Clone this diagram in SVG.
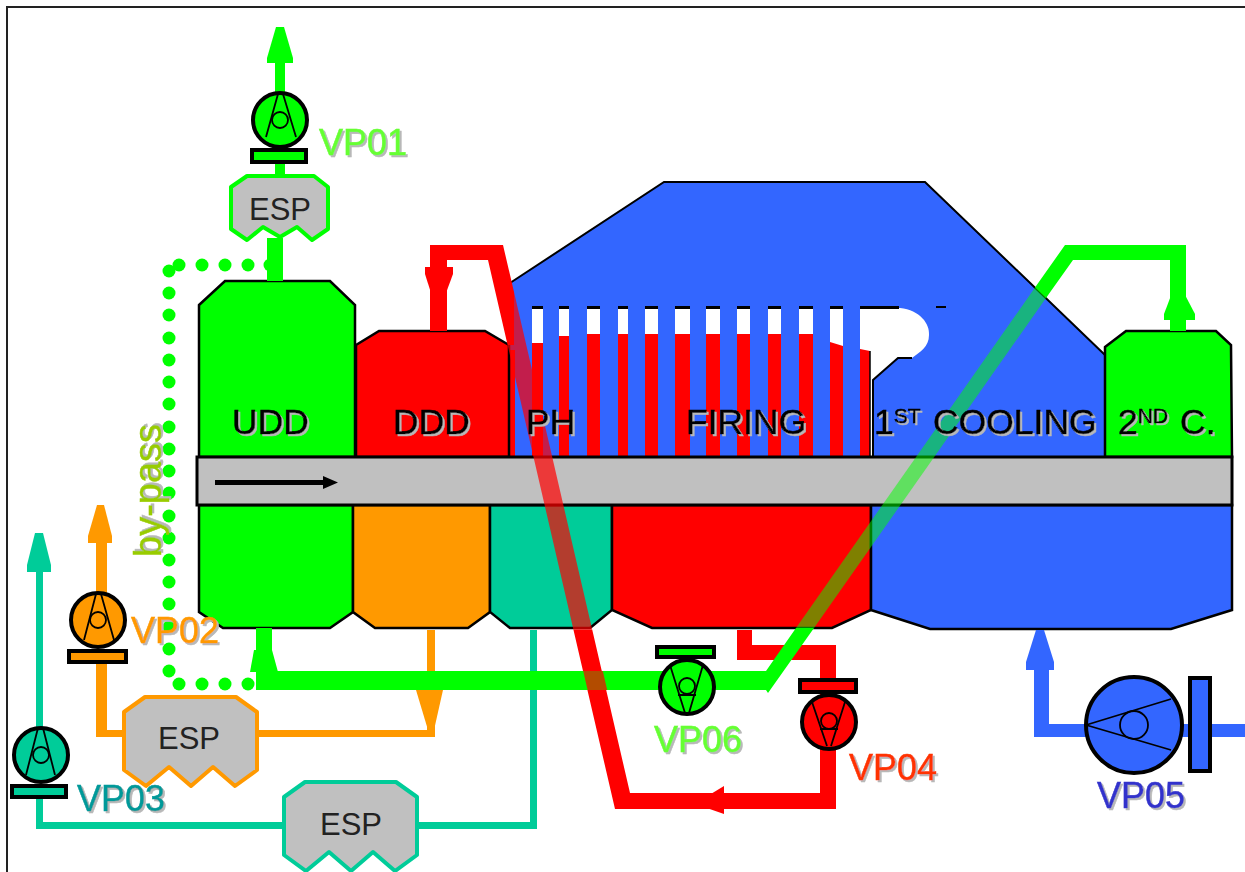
<svg xmlns="http://www.w3.org/2000/svg" width="1245" height="872" viewBox="0 0 1245 872">
<style>
.t{font-family:"Liberation Sans",Arial,sans-serif;font-size:35.500px;stroke-width:.5px;filter:url(#sh)}
.vp{font-size:36px;stroke-width:.5px}
.lab{fill:#000;stroke:#000}
.esp{font-family:"Liberation Sans",Arial,sans-serif;font-size:31px;fill:#222}
.body{stroke:#000;stroke-width:2.5}
.gap{fill:#fff}
.red{fill:#f00}
.dash{fill:#000}
.pump{stroke:#000;stroke-width:4}
.inner{fill:none;stroke:#000;stroke-width:1.800}
.plate{stroke:#000;stroke-width:4}
.espbox{fill:#c0c0c0;stroke-width:4;stroke-linejoin:round}
.g{fill:#0f0}.o{fill:#f90}.te{fill:#0c9}.r{fill:#f00}.b{fill:#36f}
</style>
<defs>
<filter id="sh" x="-10%" y="-10%" width="120%" height="125%"><feDropShadow dx="2" dy="2" stdDeviation="0.4" flood-color="#b8b8b8"/></filter>
<polygon id="espshape" points="145,697 236,697 257,712 257,770 235,786 213,767 191,786 169,767 146,786 124,770 124,712"/>
</defs>
<rect width="1245" height="872" fill="#fff"/>
<path id="frame" d="M1245,7H7V872" fill="none" stroke="#222" stroke-width="2"/>

<g id="cooling">
<polygon class="b" points="510,283 664,182 925,182 1105,355 1105,457 510,457"/>
<path d="M510,283L664,182H925L1105,355" fill="none" stroke="#000" stroke-width="2"/>
<path class="gap" d="M860,308H900C920,310 930,324 929,335C929,347 920,352 912,358H898L873,380V457H860Z"/>
<path d="M873,457V380L898,358H912" fill="none" stroke="#000" stroke-width="2"/>
<rect class="dash" x="936" y="306" width="10" height="2"/>
</g>

<g id="firing-upper">
<g class="gap">
<rect x="532" y="308" width="11" height="40"/><rect x="559" y="308" width="10" height="40"/><rect x="587" y="308" width="13" height="40"/><rect x="618" y="308" width="10" height="40"/><rect x="645" y="308" width="13" height="40"/><rect x="675" y="308" width="15" height="40"/><rect x="706" y="308" width="14" height="40"/><rect x="737" y="308" width="13" height="40"/><rect x="768" y="308" width="13" height="40"/><rect x="799" y="308" width="14" height="40"/><rect x="830" y="308" width="13" height="40"/>
</g>
<g class="red">
<rect x="532" y="343" width="11" height="114"/><rect x="559" y="336" width="10" height="121"/><rect x="587" y="334" width="13" height="123"/><rect x="618" y="334" width="10" height="123"/><rect x="645" y="334" width="13" height="123"/><rect x="675" y="334" width="15" height="123"/><rect x="706" y="334" width="14" height="123"/><rect x="737" y="334" width="13" height="123"/><rect x="768" y="334" width="13" height="123"/><rect x="799" y="334" width="14" height="123"/><polygon points="830,342 843,346 843,457 830,457"/><polygon points="860,349 870,351 870,457 860,457"/>
<rect x="510" y="350" width="5" height="107"/>
</g>
<g class="dash">
<rect x="532" y="306" width="11" height="3"/><rect x="559" y="306" width="10" height="3"/><rect x="587" y="306" width="13" height="3"/><rect x="618" y="306" width="10" height="3"/><rect x="645" y="306" width="13" height="3"/><rect x="675" y="306" width="15" height="3"/><rect x="706" y="306" width="14" height="3"/><rect x="737" y="306" width="13" height="3"/><rect x="768" y="306" width="13" height="3"/><rect x="799" y="306" width="14" height="3"/><rect x="830" y="306" width="13" height="3"/><rect x="860" y="306" width="39" height="3"/>
</g>
<path d="M870,351V457" stroke="#000" stroke-width="1.5"/>
</g>

<g id="udd"><polygon class="body g" points="199,305 225,281 330,281 355,305 355,457 199,457"/></g>
<g id="ddd"><polygon class="body r" points="356,345 379,331 485,331 509,345 509,457 356,457"/></g>
<g id="second-cooling"><polygon class="body g" points="1105,347 1126,331 1216,331 1231,345 1232,457 1105,457"/></g>
<g id="lower-udd"><polygon class="body g" points="199,505 353,505 353,612 330,628 223,628 199,612"/></g>
<g id="lower-ddd"><polygon class="body o" points="353,505 490,505 490,612 468,628 375,628 353,612"/></g>
<g id="lower-ph"><polygon class="body te" points="490,505 612,505 612,610 590,628 510,628 490,612"/></g>
<g id="lower-firing"><polygon class="body r" points="612,505 871,505 871,610 832,628 652,628 612,610"/></g>
<g id="lower-cooling"><polygon class="body b" points="871,505 1232,505 1232,610 1171,629 930,629 871,610"/></g>
<g id="kiln-bar">
<rect x="197" y="457" width="1035" height="48" fill="#c0c0c0" stroke="#000" stroke-width="3"/>
<path d="M215,482.500H325" stroke="#000" stroke-width="5"/>
<polygon points="323,476 338,482.500 323,489" fill="#000"/>
</g>

<g id="connectors">
<g fill="#0f0">
<circle cx="179" cy="265" r="6.500"/><circle cx="202" cy="265" r="6.500"/><circle cx="225" cy="265" r="6.500"/><circle cx="248" cy="265" r="6.500"/><circle cx="270" cy="265" r="6.500"/><circle cx="169" cy="271" r="6.500"/><circle cx="169" cy="293" r="6.500"/><circle cx="169" cy="315" r="6.500"/><circle cx="169" cy="338" r="6.500"/><circle cx="169" cy="360" r="6.500"/><circle cx="169" cy="382" r="6.500"/><circle cx="169" cy="404" r="6.500"/><circle cx="169" cy="427" r="6.500"/><circle cx="169" cy="449" r="6.500"/><circle cx="169" cy="471" r="6.500"/><circle cx="169" cy="493" r="6.500"/><circle cx="169" cy="516" r="6.500"/><circle cx="169" cy="538" r="6.500"/><circle cx="169" cy="560" r="6.500"/><circle cx="169" cy="582" r="6.500"/><circle cx="169" cy="604" r="6.500"/><circle cx="169" cy="627" r="6.500"/><circle cx="169" cy="649" r="6.500"/><circle cx="169" cy="671" r="6.500"/><circle cx="179" cy="684" r="6.500"/><circle cx="202" cy="684" r="6.500"/><circle cx="225" cy="684" r="6.500"/><circle cx="248" cy="684" r="6.500"/>
</g>
<!-- VP01 line -->
<rect class="g" x="275" y="60" width="10" height="36"/>
<polygon class="g" points="276,27 284,27 293,58 293,63 267,63 267,58"/>
<rect class="g" x="275" y="160" width="10" height="18"/>
<rect class="g" x="267" y="238" width="16" height="43"/>
<!-- VP02 -->
<polygon class="o" points="96,520 96,595 107,595 107,520"/>
<polygon class="o" points="97,505 104,505 112,536 112,543 88,543 88,536"/>
<path class="o" d="M96,660H107V730H125V737H96ZM255,730H427V630H435V737H255Z"/>
<polygon class="o" points="416,684 443,684 443,690 434,730 428,730 416,690"/>
<!-- VP03 -->
<rect class="te" x="36" y="565" width="7" height="165"/>
<polygon class="te" points="35,533 43,533 51,565 51,572 27,572 27,565"/>
<path class="te" d="M36,795H43V822H290V829H36ZM415,822H530V630H537V829H415Z"/>
<!-- red -->
<path class="r" d="M737,630H752V645H836V809H615L573.500,630H592.300L630,793H820V660H737Z"/>
<polygon class="r" points="701,800 724,786 724,814 701,806"/>
<polygon class="r" points="488,260 447,260 447,331 430,331 430,245 503,245 514,292 514,345 507.600,345"/>
<polygon class="r" points="425,267 453,267 453,274 446,293 431,293 425,274"/>
<polygon class="r" opacity=".7" points="514,292 592.300,630 573.500,630 507.600,345 514,345"/>
<!-- green -->
<path class="g" d="M256,628H272V671H766L796,628H814L768,693L766,690H256Z"/>
<polygon class="g" points="254,650 272,650 278,672 250,672"/>
<polygon class="r" opacity=".7" points="583.200,671 602.800,671 607.200,690 587.600,690"/>
<polygon class="g" opacity=".5" points="1035,287.600 1046,298 814,628 796,628"/>
<path class="g" d="M1035,287.600L1065,245H1186V331H1170V260H1073L1046,298Z"/>
<polygon class="g" points="1172,293 1184,293 1195,314 1195,320 1164,320 1164,314"/>
<!-- blue -->
<path class="b" d="M1034,665H1049V724H1245V737H1034Z"/>
<polygon class="b" points="1036,630 1044,630 1054,662 1054,670 1026,670 1026,662"/>
</g>

<g id="section-labels">
<text class="t lab" x="232" y="434">UDD</text>
<text class="t lab" x="393" y="434">DDD</text>
<text class="t lab" x="526" y="434">PH</text>
<text class="t lab" x="686" y="434">FIRING</text>
<text class="t lab" x="874" y="434">1<tspan font-size="21" dy="-11">ST</tspan><tspan dy="11" x="933">COOLING</tspan></text>
<text class="t lab" x="1118" y="434">2<tspan font-size="21" dy="-11">ND</tspan><tspan dy="11" x="1180">C.</tspan></text>
</g>

<g id="esp-1">
<polygon class="espbox" stroke="#0f0" points="247,176 314,176 328,187 328,229 312,240 297,227 280,237 263,227 247,240 231,229 231,187"/>
<text class="esp" x="249" y="220">ESP</text>
</g>
<g id="esp-2">
<use href="#espshape" class="espbox" stroke="#f90"/>
<text class="esp" x="158" y="749">ESP</text>
</g>
<g id="esp-3">
<use href="#espshape" class="espbox" stroke="#0c9" transform="translate(160,85)"/>
<text class="esp" x="320" y="835">ESP</text>
</g>

<g id="vp01">
<rect class="plate g" x="252" y="150" width="54" height="12"/>
<circle class="pump g" cx="280" cy="120" r="27"/>
<path class="inner" d="M266,137L278,94M296,137L283,94"/><circle class="inner" cx="280" cy="120" r="8"/>
<text class="t vp" x="319" y="155" fill="#6f3" stroke="#6f3">VP01</text>
</g>
<g id="vp02">
<rect class="plate o" x="69" y="651" width="57" height="11"/>
<circle class="pump o" cx="98" cy="620" r="27"/>
<path class="inner" d="M84,640L96,594M114,640L101,594"/><circle class="inner" cx="98" cy="620" r="8"/>
<text class="t vp" x="131" y="643" fill="#f90" stroke="#f90">VP02</text>
</g>
<g id="vp03">
<rect class="plate te" x="12" y="786" width="54" height="11"/>
<circle class="pump te" cx="41" cy="755" r="27"/>
<path class="inner" d="M26,775L38,728M55,775L43,728"/><circle class="inner" cx="41" cy="755" r="8"/>
<text class="t vp" x="77" y="811" fill="#099" stroke="#099">VP03</text>
</g>
<g id="vp06">
<rect class="plate g" x="657" y="647" width="57" height="10"/>
<circle class="pump g" cx="687" cy="687" r="27"/>
<path class="inner" d="M670,665L685,713M703,665L689,713M678,695H696"/><circle class="inner" cx="687" cy="686" r="8"/>
<text class="t vp" x="654" y="752" fill="#6f3" stroke="#6f3">VP06</text>
</g>
<g id="vp04">
<rect class="plate r" x="800" y="680" width="56" height="12"/>
<circle class="pump r" cx="829" cy="722" r="27"/>
<path class="inner" d="M812,702L827,746M845,702L831,746M820,729H838"/><circle class="inner" cx="829" cy="721" r="8"/>
<text class="t vp" x="849" y="780" fill="#f30" stroke="#f30">VP04</text>
</g>
<g id="vp05">
<rect class="plate b" x="1190" y="678" width="20" height="93"/>
<circle class="pump b" cx="1134" cy="725" r="48"/>
<path class="inner" d="M1086,725L1171,699M1086,725L1171,750"/><circle class="inner" cx="1134" cy="725" r="14"/>
<text class="t vp" x="1097" y="808" fill="#33c" stroke="#33c">VP05</text>
</g>
<g id="by-pass">
<text class="t" transform="translate(161,557) rotate(-90)" style="font-size:38px" fill="#9c0" stroke="#9c0">by-pass</text>
</g>
</svg>
